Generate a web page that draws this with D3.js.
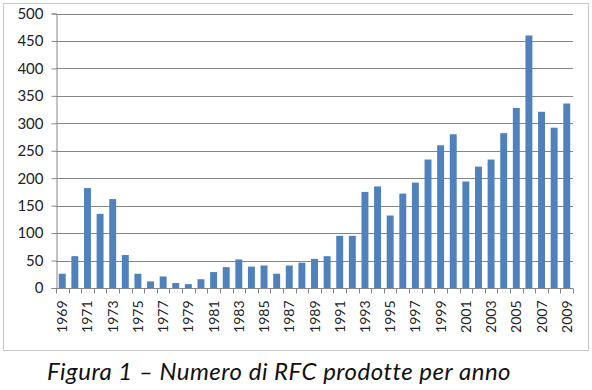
<!DOCTYPE html>
<html><head><meta charset="utf-8">
<script src="https://cdn.jsdelivr.net/npm/d3@7"></script>
<style>body{margin:0;background:#fff}svg{display:block}</style>
</head><body>
<script>
const years = d3.range(1969, 2010).map(String);
const values = [26,58,182,135,162,60,26,12,21,9,7,16,29,38,52,39,41,26,41,46,53,58,95,95,175,185,132,172,192,234,260,280,194,221,234,282,328,460,321,292,336];
const yTicks = [0,50,100,150,200,250,300,350,400,450,500];
const xLabels = years.filter((d,i)=>i%2===0);
const caption = "Figura 1 – Numero di RFC prodotte per anno";

const W=592,H=390;
const svg=d3.select("body").append("svg").attr("width",W).attr("height",H);
svg.append("rect").attr("x",3.5).attr("y",3.5).attr("width",585).attr("height",347)
  .attr("fill","#fff").attr("stroke","#c8c8c8");

const L=56,R=573,T=13.5,B=288;
const x=d3.scaleBand().domain(years).range([L,R]).paddingInner(0.45).paddingOuter(0.22);
const y=d3.scaleLinear().domain([0,500]).range([B,T]);

svg.append("g").selectAll("line").data(yTicks.slice(1)).join("line")
  .attr("x1",L).attr("x2",R).attr("y1",d=>Math.round(y(d))+0.5).attr("y2",d=>Math.round(y(d))+0.5)
  .attr("stroke","#868686").attr("stroke-width",1);

svg.append("g").selectAll("rect").data(values).join("rect")
  .attr("x",(d,i)=>x(years[i])).attr("width",x.bandwidth())
  .attr("y",d=>y(d)).attr("height",d=>B-y(d)).attr("fill","#4f81bd");

const ya=svg.append("g").attr("transform",`translate(${L+0.5},0)`)
  .call(d3.axisLeft(y).tickValues(yTicks).tickSize(5).tickPadding(8));
ya.select(".domain").attr("stroke","#868686");
ya.selectAll(".tick line").attr("stroke","#868686");
ya.selectAll("text").attr("font-family","Lato, 'Open Sans', sans-serif").attr("font-size",15).attr("fill","#222");

// x axis
const xg=svg.append("g").attr("transform",`translate(0,${B+0.5})`);
xg.append("line").attr("x1",L).attr("x2",R).attr("stroke","#868686");
const bounds=d3.range(years.length+1).map(i=>L+ (R-L)/years.length*i);
xg.selectAll("line.t").data(bounds).join("line").attr("class","t")
  .attr("x1",d=>Math.round(d)+0.5).attr("x2",d=>Math.round(d)+0.5).attr("y1",0).attr("y2",5)
  .attr("stroke","#868686");
xg.selectAll("text").data(xLabels).join("text")
  .attr("transform",d=>`translate(${x(d)+x.bandwidth()/2+5},12) rotate(-90)`)
  .attr("text-anchor","end")
  .attr("font-family","Lato, 'Open Sans', sans-serif").attr("font-size",14).attr("fill","#222")
  .text(d=>d);

svg.append("text").attr("x",47).attr("y",380)
  .attr("font-family","Lato, 'Open Sans', sans-serif").attr("font-style","italic")
  .attr("font-size",24).attr("letter-spacing",0.5).attr("fill","#111").text(caption);
</script>
</body></html>
